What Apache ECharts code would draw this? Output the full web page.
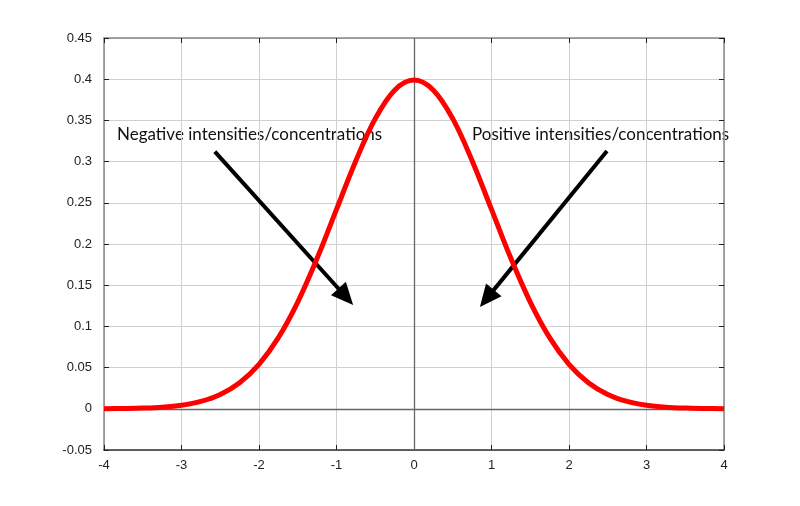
<!DOCTYPE html>
<html>
<head>
<meta charset="utf-8">
<script src="https://cdn.jsdelivr.net/npm/echarts@6/dist/echarts.min.js"></script>
<style>html,body{margin:0;padding:0;background:#fff}#c{width:800px;height:506px}</style>
</head>
<body>
<div id="c"></div>
<script>
// Data
const xValues = [-4,-3.75,-3.5,-3.25,-3,-2.75,-2.5,-2.25,-2,-1.75,-1.5,-1.25,-1,-0.75,-0.5,-0.25,0,0.25,0.5,0.75,1,1.25,1.5,1.75,2,2.25,2.5,2.75,3,3.25,3.5,3.75,4];
const yValues = [0.0001,0.0004,0.0009,0.002,0.0044,0.0091,0.0175,0.0317,0.054,0.0863,0.1295,0.1826,0.242,0.3011,0.3521,0.3867,0.3989,0.3867,0.3521,0.3011,0.242,0.1826,0.1295,0.0863,0.054,0.0317,0.0175,0.0091,0.0044,0.002,0.0009,0.0004,0.0001];
const xTicks = [-4,-3,-2,-1,0,1,2,3,4];
const yTicks = [-0.05,0,0.05,0.1,0.15,0.2,0.25,0.3,0.35,0.4,0.45];
const annotationTexts = ['Negative intensities/concentrations','Positive intensities/concentrations'];
const arrowStarts = [[-2.57,0.312],[2.49,0.313]];
const arrowEnds = [[-0.88,0.136],[0.94,0.134]];

const chart = echarts.init(document.getElementById('c'));
const labelStyle = {color:'#222', fontFamily:'Liberation Sans, Arial, sans-serif', fontSize:13};
const gridLine = {show:true, lineStyle:{color:'#d0d0d0', width:1}};
chart.setOption({
  animation:false,
  grid:{left:104, right:76, top:38, bottom:56},
  xAxis:[{
    type:'value', min:-4, max:4, interval:1,
    axisLine:{onZero:false, lineStyle:{color:'#333', width:1.5}},
    axisTick:{inside:true, length:5, lineStyle:{color:'#222'}},
    axisLabel:Object.assign({margin:9}, labelStyle),
    splitLine:gridLine
  },{
    type:'value', min:-4, max:4, interval:1, position:'top',
    axisLine:{show:true, onZero:false, lineStyle:{color:'#888', width:1.5}},
    axisTick:{inside:true, length:5, lineStyle:{color:'#222'}},
    axisLabel:{show:false}, splitLine:{show:false}
  }],
  yAxis:[{
    type:'value', min:-0.05, max:0.45, interval:0.05,
    axisLine:{show:true, onZero:false, lineStyle:{color:'#888', width:1.5}},
    axisTick:{show:true, inside:true, length:5, lineStyle:{color:'#222'}},
    axisLabel:Object.assign({margin:12, formatter:v=>String(+v.toFixed(2))}, labelStyle),
    splitLine:gridLine
  },{
    type:'value', min:-0.05, max:0.45, interval:0.05, position:'right',
    axisLine:{show:true, onZero:false, lineStyle:{color:'#888', width:1.5}},
    axisTick:{show:true, inside:true, length:5, lineStyle:{color:'#222'}},
    axisLabel:{show:false}, splitLine:{show:false}
  }],
  series:[{
    type:'line', silent:true, data:[], symbol:'none',
    markLine:{silent:true, symbol:'none', label:{show:false},
      lineStyle:{color:'#666', width:1.3, type:'solid'},
      data:[{xAxis:0},{yAxis:0}]}
  },{
    type:'line', data:xValues.map((x,i)=>[x,yValues[i]]),
    symbol:'none', smooth:0.35, z:5,
    lineStyle:{color:'#ff0000', width:5}
  },{
    type:'line', silent:true, data:[], symbol:'none', z:6,
    markLine:{silent:true, symbol:['none','triangle'], symbolSize:[20,22], label:{show:false},
      lineStyle:{color:'#000', width:4, type:'solid'},
      data:arrowStarts.map((s,i)=>[{coord:s},{coord:arrowEnds[i]}])}
  }],
  graphic:[
    {type:'text', left:117, top:126, style:{text:annotationTexts[0], fill:'#111', font:'17px Lato, sans-serif'}},
    {type:'text', left:472, top:126, style:{text:annotationTexts[1], fill:'#111', font:'17px Lato, sans-serif'}}
  ]
});
</script>
</body>
</html>
